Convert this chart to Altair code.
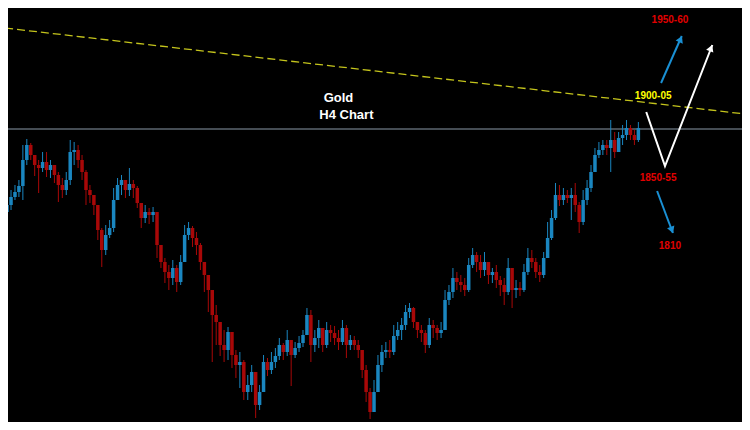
import altair as alt
import pandas as pd

# ---- Gold H4 candles (price values) ----
close = [1834.4,1839.2,1842.2,1845.8,1861.4,1870.4,1864.4,1858.4,1856.6,1860.2,
         1855.4,1858.4,1852.4,1846.4,1843.4,1849.4,1866.2,1867.4,1861.4,1854.2,
         1843.4,1840.4,1834.4,1819.4,1807.4,1816.4,1820.6,1837.4,1846.4,1849.4,
         1843.4,1847.0,1844.6,1835.6,1826.6,1830.2,1828.4,1830.2,1810.4,1800.2,
         1794.2,1790.6,1796.6,1788.2,1800.2,1816.4,1820.6,1814.6,1810.4,1800.2,
         1792.4,1783.4,1768.4,1764.2,1750.4,1747.4,1758.2,1744.4,1738.4,1740.2,
         1722.2,1726.4,1734.2,1714.4,1722.2,1740.2,1735.4,1740.2,1743.8,1750.4,
         1746.2,1753.4,1744.4,1748.6,1751.6,1756.4,1768.4,1750.4,1754.6,1760.6,
         1750.4,1759.4,1757.6,1754.6,1752.2,1760.6,1750.4,1753.4,1750.4,1747.4,
         1735.4,1722.2,1710.2,1722.2,1738.4,1746.2,1747.4,1746.2,1755.8,1759.4,
         1762.4,1770.2,1772.6,1764.2,1759.4,1757.6,1750.4,1762.4,1760.6,1757.6,
         1759.4,1777.4,1782.2,1790.6,1788.2,1786.4,1783.4,1798.4,1804.4,1800.2,
         1795.4,1800.2,1792.4,1794.2,1789.4,1786.4,1782.2,1796.6,1783.4,1784.6,
         1783.4,1794.2,1802.6,1800.2,1794.2,1792.4,1802.6,1814.6,1826.6,1840.4,
         1837.4,1840.4,1838.6,1840.4,1834.4,1824.2,1837.4,1844.6,1854.2,1864.4,
         1867.4,1870.4,1868.6,1873.4,1866.2,1874.6,1876.4,1880.6,1876.4,1873.4,
         1880.6]

high = [1838.6,1843.4,1846.4,1849.4,1870.4,1874.0,1871.6,1864.4,1861.4,1866.2,
        1866.2,1861.4,1858.4,1854.2,1850.6,1854.2,1873.4,1872.2,1870.4,1864.4,
        1855.4,1846.4,1840.4,1832.6,1820.6,1822.4,1825.4,1844.6,1850.6,1852.4,
        1849.4,1856.6,1849.4,1845.8,1835.6,1834.4,1832.6,1833.2,1828.4,1807.4,
        1802.6,1798.4,1801.4,1798.4,1804.4,1822.4,1824.2,1821.8,1818.2,1811.6,
        1800.2,1792.4,1783.4,1774.4,1764.2,1759.4,1761.2,1757.6,1747.4,1746.2,
        1741.4,1732.4,1738.4,1734.2,1726.4,1744.4,1742.6,1746.2,1748.6,1754.6,
        1751.6,1759.4,1753.4,1752.2,1755.8,1759.4,1772.6,1771.4,1759.4,1765.4,
        1758.2,1764.2,1762.4,1761.8,1759.4,1765.4,1762.4,1756.4,1755.8,1753.4,
        1747.4,1738.4,1724.6,1729.4,1744.4,1750.4,1752.2,1753.4,1762.4,1764.2,
        1766.6,1774.4,1775.6,1773.2,1764.2,1762.4,1759.4,1766.6,1765.4,1762.4,
        1764.2,1783.4,1786.4,1796.6,1794.2,1792.4,1790.6,1802.6,1808.6,1806.2,
        1804.4,1806.2,1798.4,1796.6,1798.4,1791.8,1790.6,1802.6,1796.6,1789.4,
        1788.2,1799.0,1808.6,1807.4,1802.6,1798.4,1806.2,1824.2,1831.4,1847.6,
        1846.4,1844.6,1843.4,1844.6,1847.6,1836.2,1843.4,1849.4,1858.4,1868.6,
        1872.2,1873.4,1873.4,1885.4,1878.2,1878.2,1882.4,1885.4,1882.4,1879.4,
        1884.2]

low = [1811.6,1831.4,1837.4,1839.2,1837.4,1858.4,1861.4,1851.8,1841.6,1854.2,
       1851.2,1850.6,1847.6,1836.2,1838.6,1840.4,1846.4,1858.4,1856.6,1849.4,
       1834.4,1835.6,1828.4,1813.4,1797.2,1804.4,1814.6,1818.2,1837.4,1840.4,
       1838.6,1839.8,1838.6,1832.6,1820.6,1823.6,1823.0,1824.2,1802.6,1796.6,
       1787.6,1783.4,1786.4,1782.2,1786.4,1800.2,1813.4,1809.2,1804.4,1795.4,
       1782.2,1770.2,1740.2,1750.4,1743.8,1740.2,1741.4,1736.6,1730.6,1724.6,
       1717.4,1717.4,1722.2,1706.6,1711.4,1722.2,1731.8,1733.0,1736.6,1741.4,
       1741.4,1743.8,1725.8,1742.6,1746.2,1749.2,1756.4,1740.2,1746.2,1748.6,
       1746.2,1748.6,1752.2,1750.4,1747.4,1750.4,1742.6,1747.4,1747.4,1742.6,
       1730.6,1716.2,1706.0,1712.6,1726.4,1734.2,1742.6,1742.6,1744.4,1753.4,
       1753.4,1759.4,1766.6,1760.6,1754.6,1752.2,1745.6,1748.6,1754.6,1753.4,
       1754.6,1759.4,1774.4,1778.6,1783.4,1782.2,1779.8,1782.2,1796.6,1794.2,
       1790.6,1791.8,1787.0,1787.6,1784.6,1779.8,1774.4,1780.4,1772.6,1778.6,
       1779.8,1782.2,1792.4,1796.6,1790.6,1788.2,1790.6,1802.6,1813.4,1825.4,
       1833.8,1834.4,1835.6,1825.4,1830.2,1817.6,1822.4,1834.4,1842.2,1854.2,
       1862.6,1864.4,1864.4,1854.2,1862.6,1866.2,1870.4,1873.4,1873.4,1870.4,
       1872.2]

first_open = 1830.2
open_ = [first_open] + close[:-1]
bar_index = list(range(len(close)))

# ---- annotation data ----
resistance_bar = [-0.5, 187]
resistance_price = [1880.0, 1880.0]
trend_bar = [-0.5, 187]
trend_price = [1940.6, 1889.0]

title_text = ["Gold", "H4 Chart"]
title_bar = [84.0, 86.0]
title_price = [1896.5, 1885.8]

label_text = ["1950-60", "1900-05", "1850-55", "1810"]
label_bar = [168.0, 163.75, 165.0, 168.0]
label_price = [1943.6, 1898.0, 1848.8, 1808.0]
label_color = ["#e00000", "#ffff00", "#e00000", "#e00000"]

arrow_group = ["up", "up", "v", "v", "v", "down", "down"]
arrow_order = [0, 1, 0, 1, 2, 0, 1]
arrow_bar = [165.75, 171.0, 162.0, 166.75, 178.75, 164.75, 168.75]
arrow_price = [1907.6, 1935.8, 1890.2, 1857.8, 1930.4, 1842.8, 1817.6]
arrow_color = ["#1a90d4", "#1a90d4", "#ffffff", "#ffffff", "#ffffff", "#1a90d4", "#1a90d4"]

head_bar = [170.7, 178.4, 168.5]
head_price = [1934.0, 1928.6, 1819.4]
head_angle = [24, 22, 159]
head_color = ["#1a90d4", "#ffffff", "#1a90d4"]

# ---- tables ----
candles = pd.DataFrame({"bar": bar_index, "open": open_, "high": high,
                        "low": low, "close": close})
res_df = pd.DataFrame({"bar": resistance_bar, "price": resistance_price})
trend_df = pd.DataFrame({"bar": trend_bar, "price": trend_price})
title_df = pd.DataFrame({"bar": title_bar, "price": title_price, "text": title_text})
label_df = pd.DataFrame({"bar": label_bar, "price": label_price,
                         "text": label_text, "color": label_color})
arrow_df = pd.DataFrame({"bar": arrow_bar, "price": arrow_price, "g": arrow_group,
                         "o": arrow_order, "color": arrow_color})
head_df = pd.DataFrame({"bar": head_bar, "price": head_price,
                        "angle": head_angle, "color": head_color})

XS = alt.Scale(domain=[1.5, 185], nice=False, zero=False)
YS = alt.Scale(domain=[1704.2, 1952.6], nice=False, zero=False)


def xq(f="bar"):
    return alt.X(f + ":Q", scale=XS, axis=None)


def yq(f="price"):
    return alt.Y(f + ":Q", scale=YS, axis=None)


cbase = alt.Chart(candles).transform_calculate(
    dir="datum.close >= datum.open ? 'up' : 'down'")
ccolor = alt.Color("dir:N", scale=alt.Scale(domain=["up", "down"],
                                            range=["#1a86c0", "#a80808"]), legend=None)

wicks = cbase.mark_rule(strokeWidth=1, clip=True).encode(
    x=xq(), y=yq("low"), y2="high:Q", color=ccolor)
bodies = cbase.mark_bar(size=3.5, clip=True).encode(
    x=xq(), y=yq("open"), y2="close:Q", color=ccolor)

res_line = alt.Chart(res_df).mark_line(color="#8a99a8", strokeWidth=1, clip=True).encode(
    x=xq(), y=yq())
trend_line = alt.Chart(trend_df).mark_line(color="#c4c41c", strokeWidth=1.3,
                                           strokeDash=[8, 4], clip=True).encode(
    x=xq(), y=yq())

titles = alt.Chart(title_df).mark_text(font="Liberation Sans", fontSize=13, fontWeight="bold",
                                       color="#ffffff", align="center",
                                       baseline="alphabetic").encode(
    x=xq(), y=yq(), text="text:N")

labels = alt.Chart(label_df).mark_text(font="Liberation Sans", fontSize=10, fontWeight="bold",
                                       align="center", baseline="alphabetic").encode(
    x=xq(), y=yq(), text="text:N", color=alt.Color("color:N", scale=None))

arrows = alt.Chart(arrow_df).mark_line(strokeWidth=2).encode(
    x=xq(), y=yq(), detail="g:N", order="o:Q", color=alt.Color("color:N", scale=None))

heads = alt.Chart(head_df).mark_point(shape="triangle-up", filled=True, size=60,
                                      opacity=1).encode(
    x=xq(), y=yq(), angle=alt.Angle("angle:Q", scale=None),
    color=alt.Color("color:N", scale=None))

chart = alt.layer(res_line, trend_line, wicks, bodies, titles, labels, arrows, heads).properties(
    width=734, height=414,
    autosize=alt.AutoSizeParams(type="fit", contains="padding"),
    padding=0,
    background="#000000",
).configure_view(strokeWidth=0)

chart.save("out.html", embed_options={"renderer": "svg", "actions": False})
